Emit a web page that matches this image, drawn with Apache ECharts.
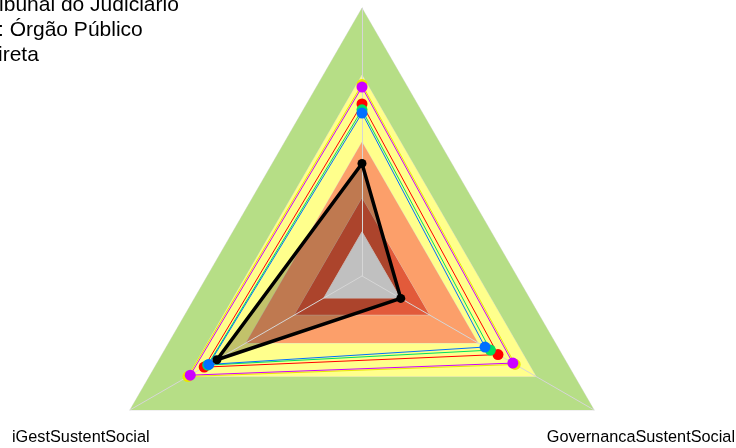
<!DOCTYPE html>
<html>
<head>
<meta charset="utf-8">
<script src="https://cdn.jsdelivr.net/npm/echarts@6/dist/echarts.min.js"></script>
<style>
  html, body { margin: 0; padding: 0; background: #fff; }
  #chart { width: 736px; height: 448px; }
</style>
</head>
<body>
<div id="chart"></div>
<script>
// indicators (top, bottom-left, bottom-right); top label lies outside the picture
const indicators = ['', 'iGestSustentSocial', 'GovernancaSustentSocial']

// background bands, outermost first
const bandLevels = [1.0, 0.75, 0.5, 0.29]
const bandColors = ['#b6de86', '#ffff8c', '#fc9f6a', '#e25a3a']
const innerLevel = 0.165

// comparison series
const magentaValues = [0.705, 0.74, 0.65]
const yellowValues = [0.715, 0.75, 0.66]
const redValues = [0.642, 0.68, 0.586]
const greenValues = [0.62, 0.665, 0.553]
const blueValues = [0.608, 0.66, 0.53]

// the organ itself
const organValues = [0.42, 0.625, 0.167]

const titleLines = ['Tribunal do Judiciário', ': Órgão Público', 'ireta']

const chart = echarts.init(document.getElementById('chart'))

const bandSeries = bandLevels.map((v, i) => ({
  type: 'radar',
  z: 2,
  silent: true,
  symbol: 'none',
  lineStyle: { color: 'rgba(215,215,215,0.7)', width: 1 },
  areaStyle: { color: bandColors[i], opacity: 1 },
  data: [{ value: [v, v, v] }]
}))

const compSeries = (values, color) => ({
  type: 'radar',
  z: 4,
  symbol: 'circle',
  symbolSize: 11,
  lineStyle: { color, width: 1 },
  itemStyle: { color },
  data: [{ value: values }]
})

const option = {
  animation: false,
  radar: {
    z: 3,
    center: [362, 276],
    radius: 268,
    startAngle: 90,
    shape: 'polygon',
    indicator: indicators.map(name => ({ name, min: 0, max: 1 })),
    axisName: { show: false },
    axisLine: { lineStyle: { color: '#d6d6d6', width: 1 } },
    splitLine: { show: false },
    splitArea: { show: false },
    axisTick: { show: false },
    axisLabel: { show: false }
  },
  series: [
    ...bandSeries,
    {
      type: 'radar',
      z: 2,
      symbol: 'none',
      lineStyle: { width: 0 },
      areaStyle: { color: 'rgba(0,0,0,0.24)', opacity: 1 },
      data: [{ value: organValues }]
    },
    {
      type: 'radar',
      z: 2,
      symbol: 'none',
      lineStyle: { color: 'rgba(215,215,215,0.7)', width: 1 },
      areaStyle: { color: '#c0c0c0', opacity: 1 },
      data: [{ value: [innerLevel, innerLevel, innerLevel] }]
    },
    compSeries(yellowValues, '#e8e800'),
    compSeries(magentaValues, '#cc00ff'),
    compSeries(redValues, '#ff0000'),
    compSeries(greenValues, '#00e060'),
    compSeries(blueValues, '#0070ff'),
    {
      type: 'radar',
      z: 5,
      symbol: 'circle',
      symbolSize: 9,
      lineStyle: { color: '#000', width: 3.5 },
      itemStyle: { color: '#000' },
      data: [{ value: organValues }]
    }
  ],
  graphic: [
    ...titleLines.map((t, i) => ({
      type: 'text',
      x: i === 0 ? -20 : -2,
      y: 5 + i * 25,
      style: {
        text: t,
        font: '21px "Liberation Sans", Arial, sans-serif',
        fill: '#000',
        textVerticalAlign: 'middle'
      }
    })),
    {
      type: 'text',
      x: 12,
      y: 438,
      style: {
        text: indicators[1],
        font: '16.3px "Liberation Sans", Arial, sans-serif',
        fill: '#000',
        textVerticalAlign: 'middle'
      }
    },
    {
      type: 'text',
      x: 735,
      y: 438,
      style: {
        text: indicators[2],
        font: '16.3px "Liberation Sans", Arial, sans-serif',
        fill: '#000',
        textAlign: 'right',
        textVerticalAlign: 'middle'
      }
    }
  ]
}

chart.setOption(option)
</script>
</body>
</html>
